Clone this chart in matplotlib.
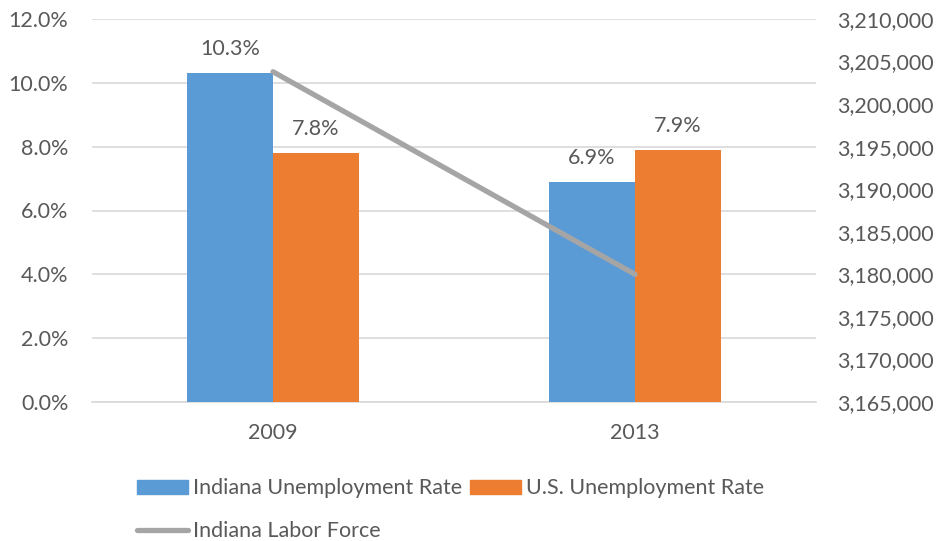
import matplotlib
matplotlib.use("Agg")
import matplotlib.pyplot as plt
import numpy as np
from matplotlib.ticker import FuncFormatter
from matplotlib.patches import Patch
from matplotlib.lines import Line2D

years = ["2009", "2013"]
indiana_rate = [10.3, 6.9]
us_rate = [7.8, 7.9]
labor_force = [3203800, 3180000]

blue = "#5B9BD5"
orange = "#ED7D31"
gray = "#A5A5A5"
text_c = "#595959"

plt.rcParams["font.family"] = ["Lato", "DejaVu Sans"]
fs = 15.5

fig = plt.figure(figsize=(9.42, 5.41), dpi=100)
ax = fig.add_axes([92 / 942, 1 - 402 / 541, (816 - 92) / 942, (402 - 19) / 541])
ax2 = ax.twinx()

x = np.arange(len(years))
w = 0.238
b1 = ax.bar(x - w / 2, indiana_rate, w, color=blue, zorder=3)
b2 = ax.bar(x + w / 2, us_rate, w, color=orange, zorder=3)

for bars, vals in ((b1, indiana_rate), (b2, us_rate)):
    for r, v in zip(bars, vals):
        ax.annotate(f"{v:.1f}%", (r.get_x() + r.get_width() / 2, v),
                    xytext=(0, 10), textcoords="offset points",
                    ha="center", va="bottom", fontsize=fs, color=text_c)

ax.set_xlim(-0.5, 1.5)
ax.set_ylim(0, 12)
ax.set_yticks(np.arange(0, 12.1, 2))
ax.yaxis.set_major_formatter(FuncFormatter(lambda v, p: f"{v:.1f}%"))
ax.set_xticks(x)
ax.set_xticklabels(years)
ax.grid(axis="y", color="#D9D9D9", linewidth=1.2, zorder=0)
ax.set_axisbelow(True)

ax2.plot(x, labor_force, color=gray, linewidth=3.8, solid_capstyle="round", zorder=4)
ax2.set_ylim(3165000, 3210000)
ax2.set_yticks(np.arange(3165000, 3210001, 5000))
ax2.yaxis.set_major_formatter(FuncFormatter(lambda v, p: f"{int(v):,}"))

for a in (ax, ax2):
    for s in a.spines.values():
        s.set_visible(False)
    a.tick_params(length=0, labelsize=fs, colors=text_c)
ax.spines["bottom"].set_visible(True)
ax.spines["bottom"].set_color("#D9D9D9")
ax.spines["bottom"].set_linewidth(1.2)
ax.tick_params(axis="y", pad=17)
ax.tick_params(axis="x", pad=15)
ax2.tick_params(axis="y", pad=15)
ax.set_zorder(ax2.get_zorder() - 1)
ax.patch.set_visible(True)
ax2.patch.set_visible(False)

handles = [Patch(color=blue), Line2D([], [], color=gray, linewidth=3.8, solid_capstyle="round"),
           Patch(color=orange)]
labels = ["Indiana Unemployment Rate", "Indiana Labor Force", "U.S. Unemployment Rate"]
fig.legend(handles, labels, ncol=2, loc="upper left", bbox_to_anchor=(118 / 942, 1 - 459 / 541),
           frameon=False, fontsize=fs, labelcolor=text_c, handlelength=2.37, handleheight=0.65,
           handletextpad=0.23, columnspacing=0.37, labelspacing=1.05)

fig.savefig("out.png", dpi=100)
